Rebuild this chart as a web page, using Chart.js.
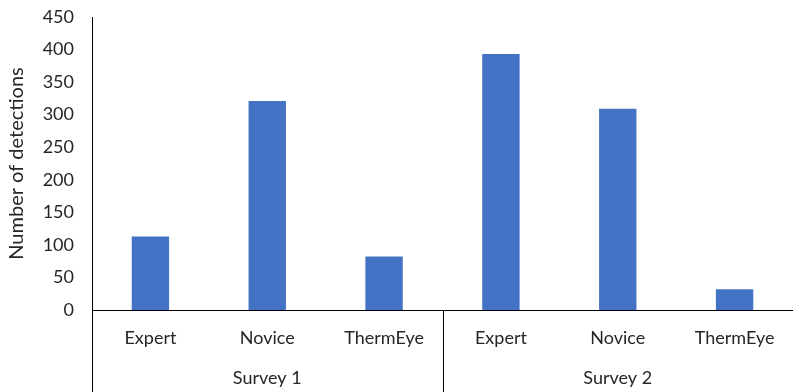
<!DOCTYPE html>
<html>
<head>
<meta charset="utf-8">
<script src="https://cdn.jsdelivr.net/npm/chart.js@4"></script>
<style>
  html, body { margin: 0; padding: 0; background: #fff; }
  #wrap { width: 793px; height: 392px; }
</style>
</head>
<body>
<div id="wrap"><canvas id="chart"></canvas></div>
<script>
// Data
const groups = ['Survey 1', 'Survey 2'];
const observers = ['Expert', 'Novice', 'ThermEye'];
const detections = [113, 321, 82, 393, 309, 32];
const yTicks = [0, 50, 100, 150, 200, 250, 300, 350, 400, 450];

const labels = groups.flatMap(() => observers);
const textColor = '#262626';
const fontFamily = 'Lato, "Liberation Sans", sans-serif';

// Draws the survey group labels and the separator lines under the axis
const groupAxis = {
    id: 'groupAxis',
    afterDraw(chart) {
        const { ctx, chartArea, scales } = chart;
        const x = scales.x;
        const bottom = chart.height;
        ctx.save();
        ctx.strokeStyle = '#000';
        ctx.lineWidth = 1;
        ctx.beginPath();
        ctx.moveTo(chartArea.left + 0.5, chartArea.bottom);
        ctx.lineTo(chartArea.left + 0.5, bottom);
        groups.forEach((g, gi) => {
            const last = (gi + 1) * observers.length - 1;
            let edge;
            if (last + 1 < labels.length) {
                edge = (x.getPixelForValue(last) + x.getPixelForValue(last + 1)) / 2;
            } else {
                edge = chartArea.right;
            }
            ctx.moveTo(Math.round(edge) + 0.5, chartArea.bottom);
            ctx.lineTo(Math.round(edge) + 0.5, bottom);
        });
        ctx.stroke();

        ctx.fillStyle = textColor;
        ctx.font = '18px ' + fontFamily;
        ctx.textAlign = 'center';
        ctx.textBaseline = 'middle';
        groups.forEach((g, gi) => {
            const first = gi * observers.length;
            const last = first + observers.length - 1;
            const cx = (x.getPixelForValue(first) + x.getPixelForValue(last)) / 2;
            ctx.fillText(g, cx, 378);
        });
        ctx.restore();
    }
};

const ctx = document.getElementById('chart').getContext('2d');
new Chart(ctx, {
    type: 'bar',
    data: {
        labels: labels,
        datasets: [{
            label: 'Number of detections',
            data: detections,
            backgroundColor: '#4472C4',
            borderWidth: 0,
            barPercentage: 0.32,
            categoryPercentage: 1
        }]
    },
    options: {
        responsive: true,
        maintainAspectRatio: false,
        animation: false,
        layout: { padding: { top: 17, right: 0, bottom: 0, left: 0 } },
        plugins: {
            legend: { display: false },
            tooltip: { enabled: false }
        },
        scales: {
            x: {
                grid: { display: false, drawTicks: false },
                border: { display: true, color: '#000', width: 1 },
                ticks: {
                    color: textColor,
                    font: { family: fontFamily, size: 18 },
                    padding: 17,
                    maxRotation: 0
                },
                afterFit(scale) { scale.height = 82; }
            },
            y: {
                min: 0,
                max: 450,
                afterBuildTicks(scale) { scale.ticks = yTicks.map(v => ({ value: v })); },
                grid: { display: false, drawTicks: true, tickLength: 18 },
                border: { display: true, color: '#000', width: 1 },
                ticks: {
                    color: textColor,
                    font: { family: fontFamily, size: 18 },
                    padding: 0
                },
                title: {
                    display: true,
                    text: 'Number of detections',
                    color: textColor,
                    font: { family: fontFamily, size: 20 },
                    padding: { top: 5, bottom: 2 }
                },
                afterFit(scale) { scale.width = 92; }
            }
        }
    },
    plugins: [groupAxis]
});
</script>
</body>
</html>
